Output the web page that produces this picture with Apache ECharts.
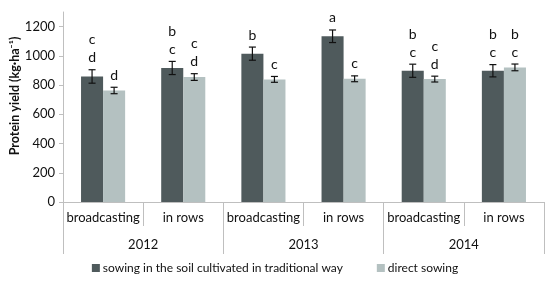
<!DOCTYPE html>
<html>
<head>
<meta charset="utf-8">
<script src="https://cdn.jsdelivr.net/npm/echarts@6/dist/echarts.min.js"></script>
<style>html,body{margin:0;padding:0;background:#fff}#c{width:550px;height:282px}</style>
</head>
<body>
<div id="c"></div>
<script>
var methods = ['broadcasting', 'in rows', 'broadcasting', 'in rows', 'broadcasting', 'in rows'];
var years = ['2012', '2013', '2014'];
var seriesNames = ['sowing in the soil cultivated in traditional way', 'direct sowing'];
var traditional = [859, 917, 1015, 1134, 898, 898];
var traditionalErr = [46, 45, 45, 43, 45, 42];
var direct = [763, 855, 839, 843, 841, 921];
var directErr = [22, 23, 20, 20, 20, 23];
var traditionalLetters = ['c\nd', 'b\nc', 'b', 'a', 'b\nc', 'b\nc'];
var directLetters = ['d', 'c\nd', 'c', 'c', 'c\nd', 'b\nc'];
var yTicks = [0, 200, 400, 600, 800, 1000, 1200];

var DARK = '#4f5a5c', LIGHT = '#b4c1c1', AXIS = '#bfbfbf';
var FONT = 'Lato';
var BARW = 0.275; // fraction of band

function errSeries(vals, errs, letters, side) {
  var data = vals.map(function (v, i) { return [i, v, errs[i], letters[i]]; });
  return {
    type: 'custom',
    xAxisIndex: 0,
    z: 10,
    data: data,
    renderItem: function (params, api) {
      var i = api.value(0), v = api.value(1), e = api.value(2);
      var band = api.size([1, 0])[0];
      var off = side * band * BARW / 2;
      var top = api.coord([i, v + e]);
      var bot = api.coord([i, v - e]);
      var x = top[0] + off;
      var cap = 3.5;
      var st = { stroke: '#111', lineWidth: 1.2 };
      var lbl = data[params.dataIndex][3];
      return {
        type: 'group',
        children: [
          { type: 'line', shape: { x1: x, y1: top[1], x2: x, y2: bot[1] }, style: st },
          { type: 'line', shape: { x1: x - cap, y1: top[1], x2: x + cap, y2: top[1] }, style: st },
          { type: 'line', shape: { x1: x - cap, y1: bot[1], x2: x + cap, y2: bot[1] }, style: st },
          { type: 'text', x: x, y: top[1] - 3,
            style: { text: lbl, fontFamily: FONT, fontSize: 14, lineHeight: 18, fill: '#111',
                     align: 'center', verticalAlign: 'bottom' } }
        ]
      };
    }
  };
}

var chart = echarts.init(document.getElementById('c'), null, { renderer: 'canvas' });
chart.setOption({
  animation: false,
  textStyle: { fontFamily: FONT },
  grid: { left: 63, right: 6, top: 12, bottom: 80, containLabel: false },
  legend: {
    bottom: 3, left: 'center', itemWidth: 8, itemHeight: 8, itemGap: 34,
    icon: 'rect',
    textStyle: { fontFamily: FONT, fontSize: 12, color: '#111', padding: [0, 0, 0, -2] },
    data: seriesNames
  },
  xAxis: [
    {
      type: 'category', data: methods, position: 'bottom',
      axisLine: { show: true, lineStyle: { color: AXIS } },
      axisTick: { show: true, length: 24, interval: 0, alignWithLabel: false, lineStyle: { color: AXIS } },
      axisLabel: { interval: 0, margin: 9, fontSize: 13, color: '#111', fontFamily: FONT }
    },
    {
      type: 'category', data: years, position: 'bottom', gridIndex: 0,
      axisLine: { show: true, lineStyle: { color: AXIS } },
      axisTick: { show: true, length: 52, interval: 0, alignWithLabel: false, lineStyle: { color: AXIS } },
      axisLabel: { interval: 0, margin: 36, fontSize: 13, color: '#111', fontFamily: FONT }
    }
  ],
  yAxis: {
    type: 'value', min: 0, max: 1300, interval: 100,
    axisLine: { show: true, lineStyle: { color: AXIS } },
    axisTick: { show: true, length: 4, customValues: yTicks, lineStyle: { color: AXIS } },
    axisLabel: { customValues: yTicks, fontSize: 13, color: '#111', margin: 8, fontFamily: FONT,
                 formatter: function (v) { return String(v); } },
    splitLine: { show: false }
  },
  graphic: [{
    type: 'text', x: 15, y: 96, rotation: Math.PI / 2,
    style: { text: 'Protein yield (kg·ha⁻¹)', fontFamily: FONT, fontWeight: 'bold', fontSize: 12.5,
             fill: '#111', align: 'center', verticalAlign: 'middle' }
  }],
  series: [
    { name: seriesNames[0], type: 'bar', xAxisIndex: 0, data: traditional,
      barWidth: (BARW * 100) + '%', barGap: '0%', itemStyle: { color: DARK } },
    { name: seriesNames[1], type: 'bar', xAxisIndex: 0, data: direct,
      barWidth: (BARW * 100) + '%', barGap: '0%', itemStyle: { color: LIGHT } },
    errSeries(traditional, traditionalErr, traditionalLetters, -1),
    errSeries(direct, directErr, directLetters, 1)
  ]
});
</script>
</body>
</html>
